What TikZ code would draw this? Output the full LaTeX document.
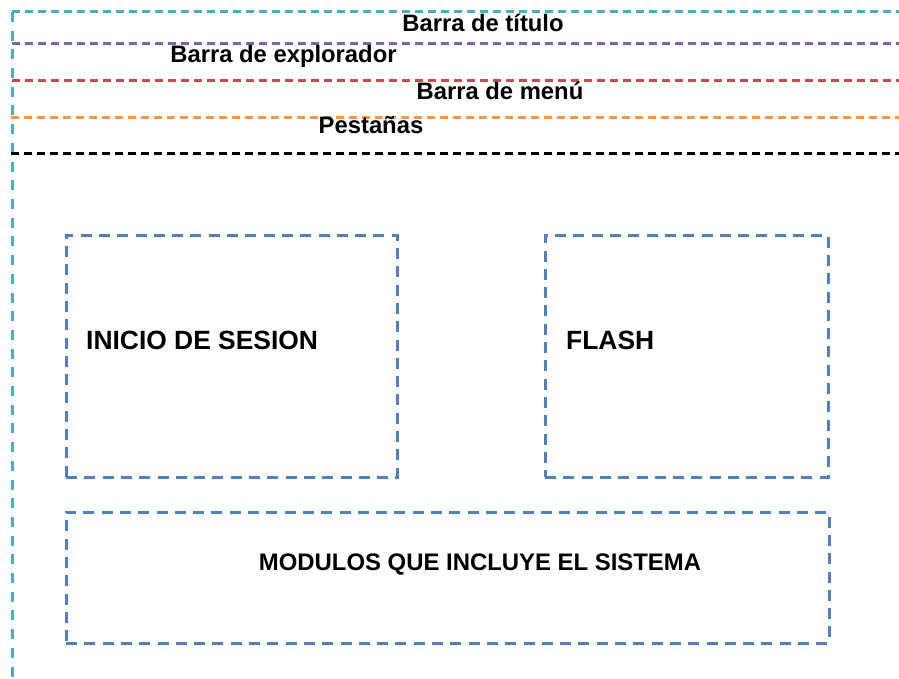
\documentclass[tikz,border=0pt]{standalone}
\usepackage{fontspec}
\setmainfont{Liberation Sans}
\usepackage{tikz}
\usetikzlibrary{positioning}

\definecolor{cyanbar}{HTML}{4BACC6}
\definecolor{purplebar}{HTML}{8064A2}
\definecolor{redbar}{HTML}{C0504D}
\definecolor{orangebar}{HTML}{F79646}
\definecolor{bluebox}{HTML}{4F81BD}

\begin{document}
\begin{tikzpicture}[x=1pt,y=-1pt,
    bar/.style={line width=3pt, dash pattern=on 8pt off 5pt},
    barlabel/.style={anchor=base, inner sep=0pt, font=\fontsize{23.8}{28}\selectfont\bfseries},
    zone/.style={draw=bluebox, line width=3pt, dash pattern=on 11pt off 7.3pt, inner sep=0pt},
    zonelabel/.style={inner sep=0pt, font=\fontsize{26.4}{30}\selectfont\bfseries}]
    \useasboundingbox (0,0) rectangle (899,679);

    %window frame
    \draw[bar, cyanbar](12,12)--(899,12);
    \draw[bar, cyanbar, dash pattern=on 10pt off 8.7pt](12,12)--(12,679);
    \draw[bar, purplebar](12,44)--(899,44);
    \draw[bar, redbar](12,81)--(899,81);
    \draw[bar, orangebar](11,118)--(899,118);
    \draw[bar, black](11,154)--(899,154);

    \node[barlabel] (titulo) at (483,32) {Barra de título};
    \node[barlabel] (explorador) at (283.5,63) {Barra de explorador};
    \node[barlabel] (menu) at (500,100) {Barra de menú};
    \node[barlabel] (pestanas) at (371,134) {Pestañas};

    %content
    \node[zone, minimum width=331pt, minimum height=242pt] (sesion) at (231.5,356) {};
    \node[zone, minimum width=283pt, minimum height=242pt] (flash) at (686.5,356) {};
    \node[zone, minimum width=763pt, minimum height=131pt] (modulos) at (447.5,577.5) {};

    \node[zonelabel, anchor=base west] (sesiontxt) at (86,349) {INICIO DE SESION};
    \node[zonelabel, anchor=base west] (flashtxt) at (566,349) {FLASH};
    \node[zonelabel, anchor=base, font=\fontsize{23.9}{28}\selectfont\bfseries] (modulostxt) at (480,570) {MODULOS QUE INCLUYE EL SISTEMA};

\end{tikzpicture}
\end{document}
